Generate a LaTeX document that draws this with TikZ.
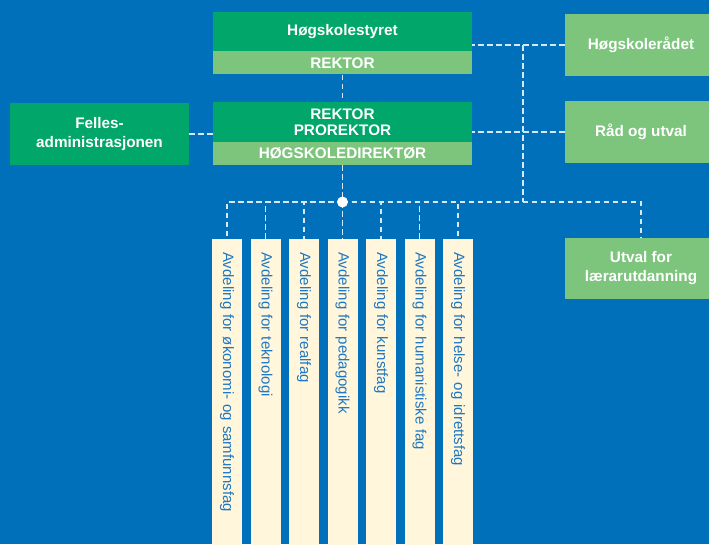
\documentclass[tikz,border=0pt]{standalone}
\usepackage{fontspec}
\setmainfont{Liberation Sans}
\usetikzlibrary{positioning}

\definecolor{hsbg}{RGB}{0,112,186}
\definecolor{hsdark}{RGB}{0,166,106}
\definecolor{hslight}{RGB}{125,197,125}
\definecolor{hscream}{RGB}{255,246,220}
\definecolor{hstext}{RGB}{30,120,195}
\definecolor{hsline}{RGB}{215,232,248}

\tikzset{
	box/.style={rectangle, inner sep=0pt, minimum width=259pt, text=white, align=center,
		font=\bfseries\fontsize{15.3}{19}\selectfont},
	topbox/.style={box, fill=hsdark},
	subbox/.style={box, fill=hslight, minimum height=23pt},
	sidebox/.style={box, fill=hslight, minimum width=152pt, minimum height=62pt},
	deptbox/.style={rectangle, fill=hscream, text=hstext, rotate=-90, anchor=west,
		minimum width=312pt, minimum height=30pt, inner xsep=13pt, inner ysep=0pt,
		text width=286pt, align=left, font=\fontsize{15}{17}\selectfont},
	link/.style={draw=hsline, line width=1.5pt, dash pattern=on 5.5pt off 3.5pt},
	hub/.style={circle, fill=white, inner sep=0pt, minimum size=11pt},
}

\begin{document}
\begin{tikzpicture}[x=1pt,y=-1pt]
	\fill[hsbg] (0,0) rectangle (709,544);
	\clip (0,0) rectangle (709,544);

	\node[topbox, minimum height=39pt] (styret) at (342.5,31.5) {Høgskolestyret};
	\node[subbox, below=0pt of styret] (rektor) {REKTOR};
	\node[topbox, minimum height=40pt, below=27pt of rektor,
		font=\bfseries\fontsize{15.3}{16}\selectfont] (leiing) {REKTOR\\PROREKTOR};
	\node[subbox, below=0pt of leiing] (dir) {HØGSKOLEDIREKTØR};
	\node[topbox, minimum width=179pt, minimum height=62pt] (felles) at (99.5,134) {Felles-\\administrasjonen};

	\node[sidebox] (raadet) at (641,45) {Høgskolerådet};
	\node[sidebox] (utval) at (641,132) {Råd og utval};
	\node[sidebox, minimum height=61pt] (lu) at (641,268.5) {Utval for\\lærarutdanning};

	\foreach \t [count=\i] in {Avdeling for økonomi- og samfunnsfag, Avdeling for teknologi,
		Avdeling for realfag, Avdeling for pedagogikk, Avdeling for kunstfag,
		Avdeling for humanistiske fag, Avdeling for helse- og idrettsfag}
		\node[deptbox] (d\i) at (188.5+38.5*\i,239) {\t};

	\coordinate (hub) at (342.5,202);
	\coordinate (knot) at (523,45);

	\draw[link] (rektor) -- (leiing);
	\draw[link] (dir) -- (hub);
	\draw[link] (felles.east) -- (felles.east -| leiing.west);
	\draw[link] (raadet.west) -- (raadet.west -| styret.east);
	\draw[link] (utval.west) -- (utval.west -| leiing.east);
	\draw[link] (knot) -- (knot |- hub);
	\foreach \i in {1,...,7}
		\draw[link] (hub) -| (d\i.west);
	\draw[link] (hub) -| (lu.north);

	\node[hub] at (hub) {};
\end{tikzpicture}
\end{document}
